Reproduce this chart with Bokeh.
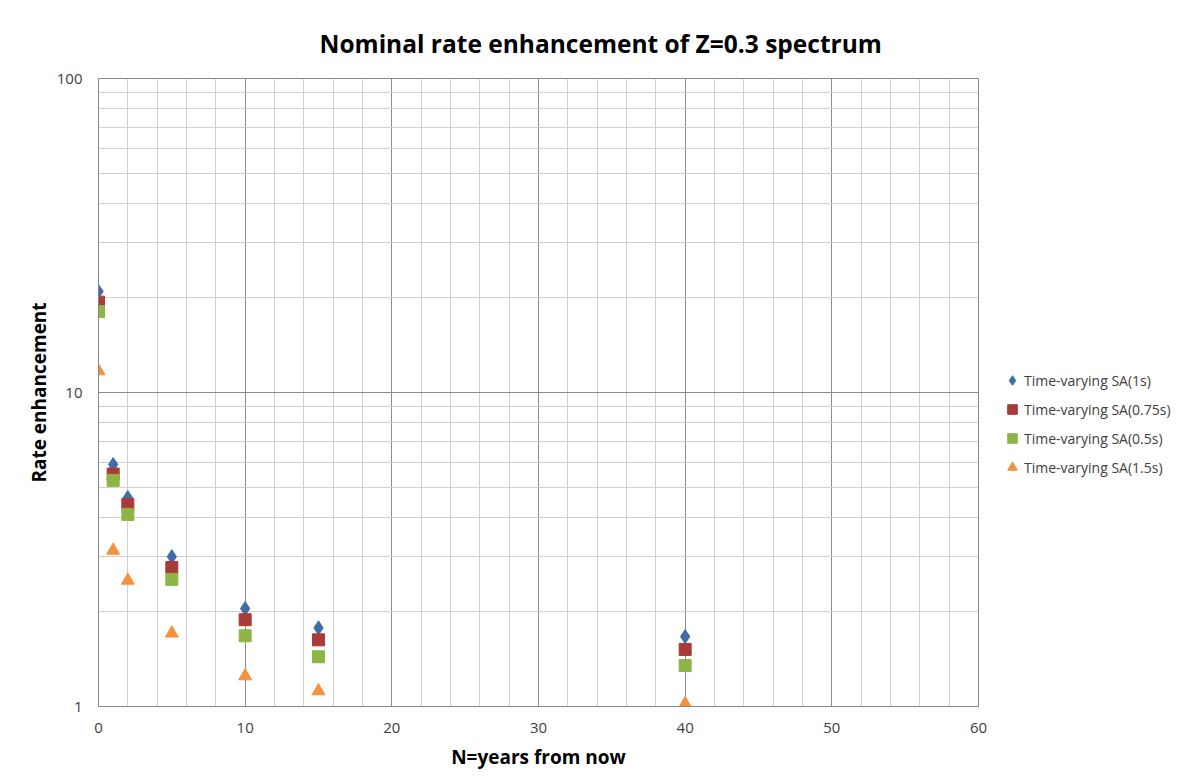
from bokeh.plotting import figure
from bokeh.models import FixedTicker, Legend, LegendItem, Range1d, Title
from bokeh.embed import file_html
from bokeh.resources import INLINE

years = [0, 1, 2, 5, 10, 15, 40]
sa_1s = [21.0, 5.9, 4.63, 3.0, 2.05, 1.78, 1.67]
sa_075s = [19.4, 5.5, 4.4, 2.77, 1.89, 1.63, 1.52]
sa_05s = [18.1, 5.25, 4.09, 2.54, 1.68, 1.44, 1.35]
sa_15s = [11.7, 3.14, 2.52, 1.71, 1.25, 1.12, 1.02]

x_ticks = [0, 10, 20, 30, 40, 50, 60]
x_minor = [2, 4, 6, 8, 12, 14, 16, 18, 22, 24, 26, 28, 32, 34, 36, 38, 42, 44, 46, 48, 52, 54, 56, 58]
y_ticks = [1, 10, 100]
y_minor = [2, 3, 4, 5, 6, 7, 8, 9, 20, 30, 40, 50, 60, 70, 80, 90]

FONT = "Open Sans"

p = figure(frame_width=880, frame_height=628, y_axis_type="log",
           x_range=Range1d(0, 60), y_range=Range1d(1, 100),
           output_backend="svg", toolbar_location=None,
           min_border_left=98, min_border_top=78, min_border_bottom=70, min_border_right=10)

p.title = Title(text="Nominal rate enhancement of Z=0.3 spectrum", align="left", offset=221,
                text_font=FONT, text_font_size="24.5px", text_font_style="bold", text_color="#000000",
                standoff=38)

p.xaxis.ticker = FixedTicker(ticks=x_ticks, minor_ticks=x_minor)
p.yaxis.ticker = FixedTicker(ticks=y_ticks, minor_ticks=y_minor)
p.yaxis.major_label_overrides = {1: "1", 10: "10", 100: "100"}

for ax in (p.xaxis, p.yaxis):
    ax.axis_line_color = "#868686"
    ax.major_tick_line_color = None
    ax.minor_tick_line_color = None
    ax.major_label_text_font = FONT
    ax.major_label_text_font_size = "15px"
    ax.major_label_text_color = "#404040"
    ax.axis_label_text_font = FONT
    ax.axis_label_text_font_size = "19px"
    ax.axis_label_text_font_style = "bold"
    ax.axis_label_text_color = "#000000"

p.xaxis.axis_label = "N=years from now"
p.yaxis.axis_label = "Rate enhancement"
p.xaxis.major_label_standoff = 10
p.yaxis.major_label_standoff = 10
p.xaxis.axis_label_standoff = 8
p.yaxis.axis_label_standoff = 2

for g in (p.xgrid, p.ygrid):
    g.grid_line_color = "#8c8c8c"
    g.grid_line_width = 1
    g.minor_grid_line_color = "#d0d0d0"
    g.minor_grid_line_width = 1

p.outline_line_color = "#868686"
p.background_fill_color = "white"
p.border_fill_color = "white"

r1 = p.scatter(years, sa_1s, marker="diamond", size=14, fill_color="#3E6DA8", line_color="#3E6DA8")
r2 = p.scatter(years, sa_075s, marker="square", size=12, fill_color="#A83A38", line_color="#A83A38")
r3 = p.scatter(years, sa_05s, marker="square", size=12, fill_color="#8DB546", line_color="#8DB546")
r4 = p.scatter(years, sa_15s, marker="triangle", size=13, fill_color="#F5923E", line_color="#F5923E")

legend = Legend(items=[
    LegendItem(label="Time-varying SA(1s)", renderers=[r1]),
    LegendItem(label="Time-varying SA(0.75s)", renderers=[r2]),
    LegendItem(label="Time-varying SA(0.5s)", renderers=[r3]),
    LegendItem(label="Time-varying SA(1.5s)", renderers=[r4]),
], location=(22, 225), label_text_font=FONT, label_text_font_size="14px", label_text_color="#404040",
    glyph_width=24, glyph_height=28, label_height=28, spacing=1, padding=0, margin=0,
    border_line_color=None, background_fill_alpha=0, label_standoff=0)
p.add_layout(legend, "right")

open("out.html", "w").write(file_html(p, INLINE))
